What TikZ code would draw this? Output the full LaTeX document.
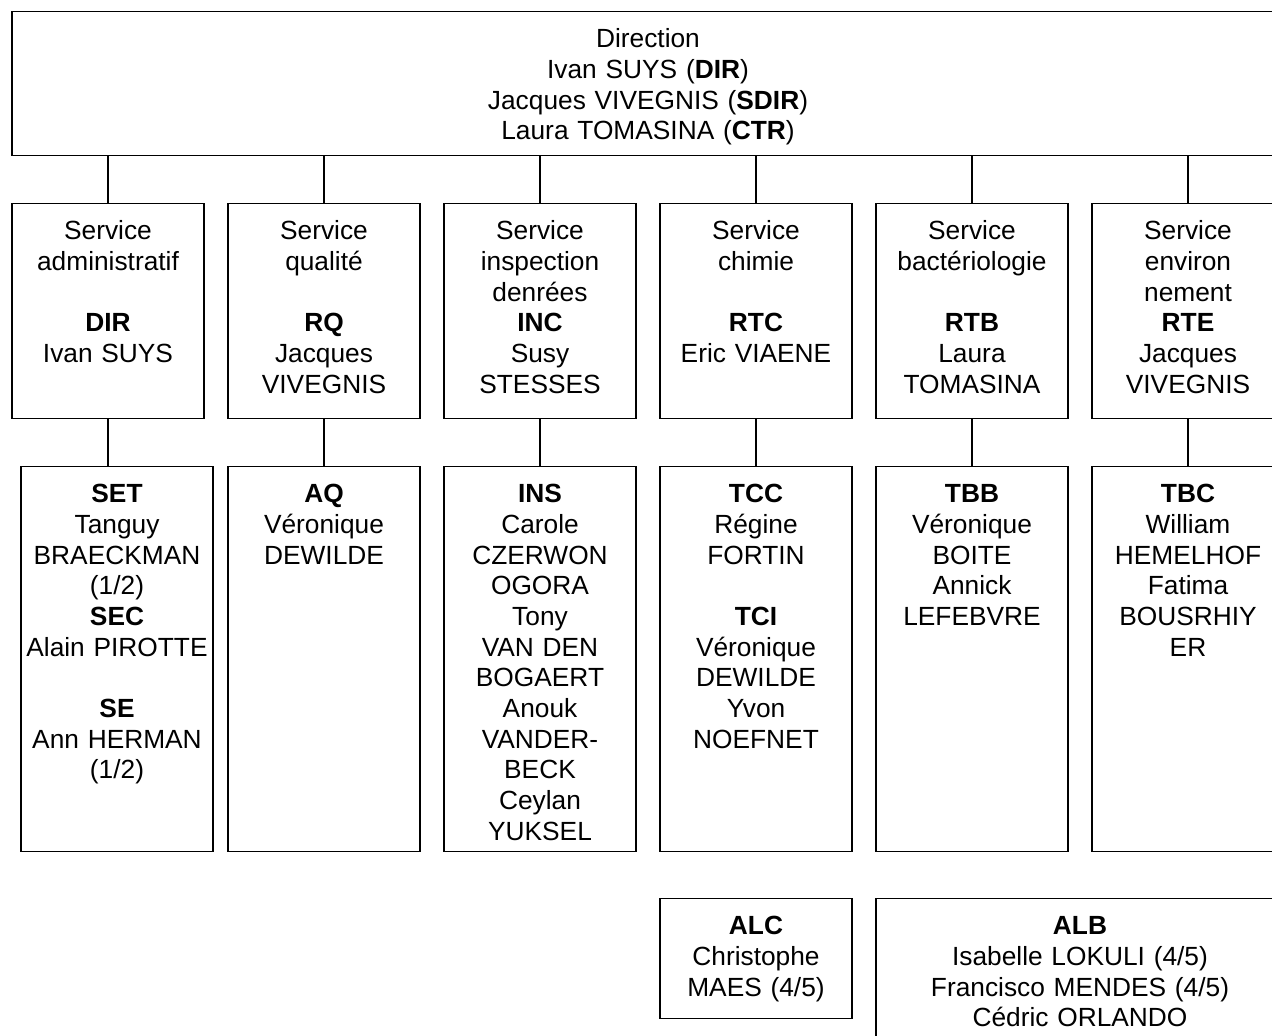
\documentclass[tikz,border=0pt]{standalone}
\usepackage{fontspec}
\setmainfont{Liberation Sans}
\tikzset{
  unit/.style={draw, anchor=north, align=center, inner sep=0pt, text width=192pt,
    text height=36pt, font=\fontsize{26.3}{30.7}\selectfont},
  service/.style={unit, text depth=179pt},
  staff/.style={unit, text depth=349pt}
}
\begin{document}
\begin{tikzpicture}[x=1pt,y=-1pt,line width=1.3pt]
    \useasboundingbox (0,0) rectangle (1272,1036);
    \clip (0,0) rectangle (1272,1036);
    \node[unit, text width=1272pt, text depth=108pt] (dir) at (648,11) {Direction\\Ivan SUYS (\textbf{DIR})\\Jacques VIVEGNIS (\textbf{SDIR})\\Laura TOMASINA (\textbf{CTR})};
    \node[service] (sadm) at (108,203) {Service\\administratif\\[30.7pt]\textbf{DIR}\\Ivan SUYS};
    \node[service] (squa) at (324,203) {Service\\qualité\\[30.7pt]\textbf{RQ}\\Jacques\\VIVEGNIS};
    \node[service] (sins) at (540,203) {Service\\inspection\\denrées\\\textbf{INC}\\Susy\\STESSES};
    \node[service] (schi) at (756,203) {Service\\chimie\\[30.7pt]\textbf{RTC}\\Eric VIAENE};
    \node[service] (sbac) at (972,203) {Service\\bactériologie\\[30.7pt]\textbf{RTB}\\Laura\\TOMASINA};
    \node[service] (senv) at (1188,203) {Service\\environ\\nement\\\textbf{RTE}\\Jacques\\VIVEGNIS};
    \node[staff] (tadm) at (117,466) {\textbf{SET}\\Tanguy\\BRAECKMAN\\(1/2)\\\textbf{SEC}\\Alain PIROTTE\\[30.7pt]\textbf{SE}\\Ann HERMAN\\(1/2)};
    \node[staff] (tqua) at (324,466) {\textbf{AQ}\\Véronique\\DEWILDE};
    \node[staff] (tins) at (540,466) {\textbf{INS}\\Carole\\CZERWON\\OGORA\\Tony\\VAN DEN\\BOGAERT\\Anouk\\VANDER-\\BECK\\Ceylan\\YUKSEL};
    \node[staff] (tchi) at (756,466) {\textbf{TCC}\\Régine\\FORTIN\\[30.7pt]\textbf{TCI}\\Véronique\\DEWILDE\\Yvon\\NOEFNET};
    \node[staff] (tbac) at (972,466) {\textbf{TBB}\\Véronique\\BOITE\\Annick\\LEFEBVRE};
    \node[staff] (tenv) at (1188,466) {\textbf{TBC}\\William\\HEMELHOF\\Fatima\\BOUSRHIY\\ER};
    \node[unit, text depth=84pt] (alc) at (756,898) {\textbf{ALC}\\Christophe\\MAES (4/5)};
    \node[unit, text width=408pt, text depth=144pt] (alb) at (1080,898) {\textbf{ALB}\\Isabelle LOKULI (4/5)\\Francisco MENDES (4/5)\\Cédric ORLANDO};
    \foreach \s/\t in {sadm/tadm,squa/tqua,sins/tins,schi/tchi,sbac/tbac,senv/tenv} {
        \draw (dir.south -| \s.north) -- (\s.north);
        \draw (\s.south) -- (\s.south |- \t.north);
    }
\end{tikzpicture}
\end{document}
